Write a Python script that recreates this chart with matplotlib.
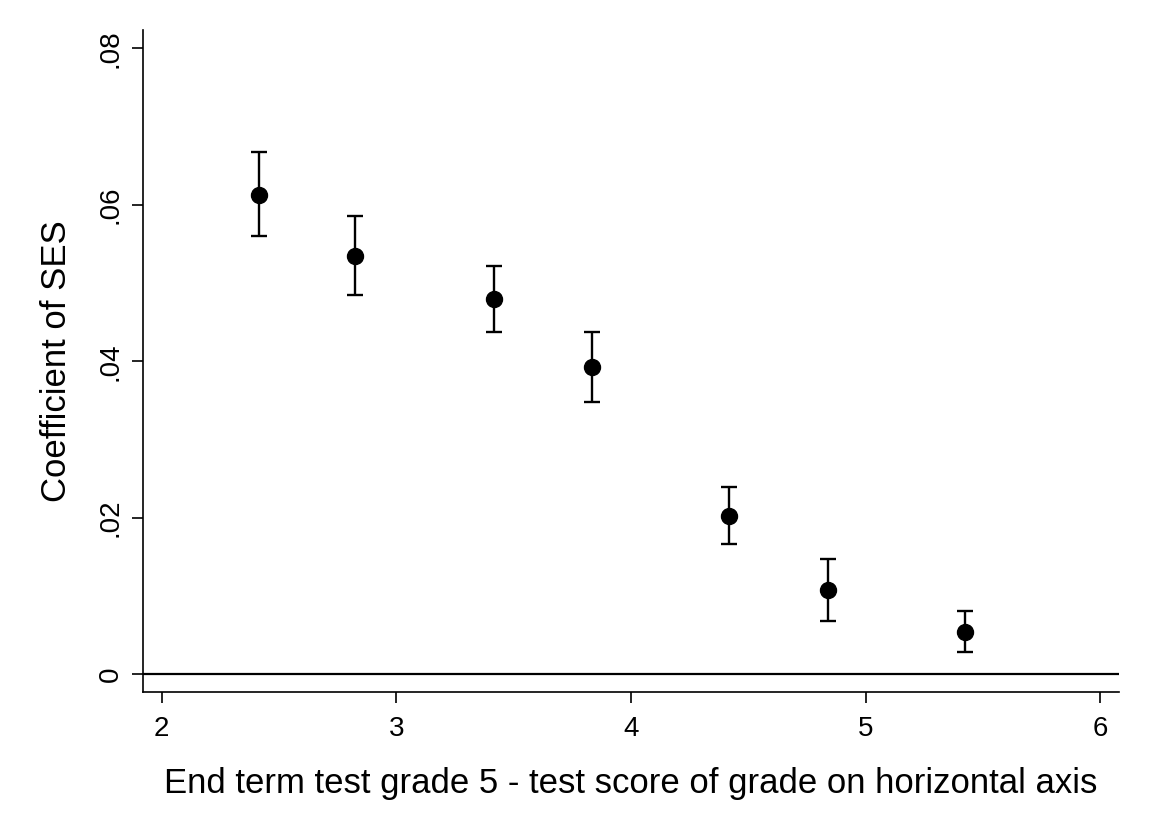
import numpy as np
import matplotlib.pyplot as plt

plt.rcParams['font.family'] = ['Liberation Sans', 'DejaVu Sans']

# grade on horizontal axis (x), coefficient of SES and 95% CI bounds
grade = [2.415, 2.825, 3.415, 3.833, 4.419, 4.838, 5.423]
coef = [0.0613, 0.0535, 0.0479, 0.0392, 0.0202, 0.0107, 0.0054]
ci_hi = [0.0667, 0.0586, 0.0522, 0.0437, 0.0239, 0.0147, 0.0080]
ci_lo = [0.0560, 0.0485, 0.0437, 0.0348, 0.0166, 0.0068, 0.0028]

xticks = [2, 3, 4, 5, 6]
yticks = [0, 0.02, 0.04, 0.06, 0.08]
ytick_labels = ['0', '.02', '.04', '.06', '.08']

fig = plt.figure(figsize=(11.49, 8.36), dpi=100)
ax = fig.add_axes([143 / 1149, 1 - 692 / 836, (1119 - 143) / 1149, (692 - 30) / 836])

coef = np.array(coef)
yerr = [coef - np.array(ci_lo), np.array(ci_hi) - coef]
ax.errorbar(grade, coef, yerr=yerr, fmt='o', color='black', ms=11.5,
            elinewidth=1.7, capsize=5.5, capthick=1.7)
ax.axhline(0, color='black', lw=1.6)

ax.set_xlim(1.920, 6.080)
ax.set_ylim(-0.0023, 0.08235)
ax.set_xticks(xticks)
ax.set_xticklabels([str(t) for t in xticks])
ax.set_yticks(yticks)
ax.set_yticklabels(ytick_labels, rotation=90, va='center')

for s in ['top', 'right']:
    ax.spines[s].set_visible(False)
for s in ['left', 'bottom']:
    ax.spines[s].set_linewidth(1.2)

ax.tick_params(axis='both', length=8, width=1.2, labelsize=20)
ax.tick_params(axis='x', pad=9)
ax.tick_params(axis='y', pad=6)

ax.set_xlabel('End term test grade 5 - test score of grade on horizontal axis',
              fontsize=25, labelpad=18)
ax.set_ylabel('Coefficient of SES', fontsize=25, labelpad=18)

fig.savefig('out.png', dpi=100)
